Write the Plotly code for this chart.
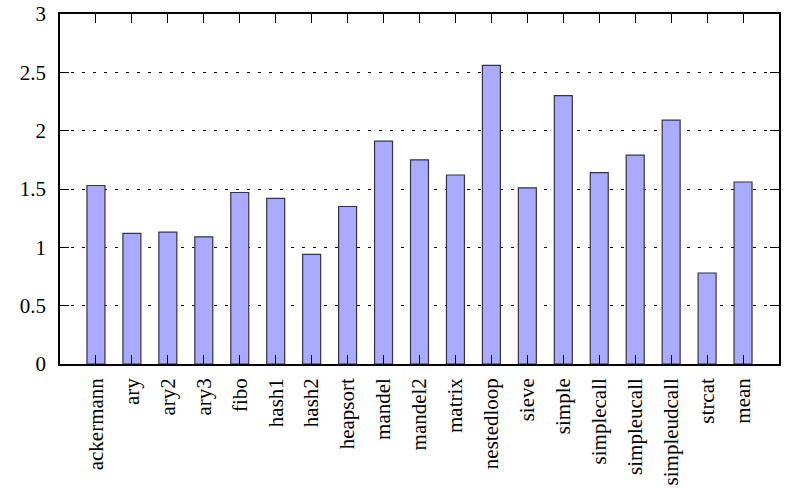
import plotly.graph_objects as go

categories = ["ackermann", "ary", "ary2", "ary3", "fibo", "hash1", "hash2", "heapsort",
              "mandel", "mandel2", "matrix", "nestedloop", "sieve", "simple", "simplecall",
              "simpleucall", "simpleudcall", "strcat", "mean"]
values = [1.53, 1.12, 1.13, 1.09, 1.47, 1.42, 0.94, 1.35,
          1.91, 1.75, 1.62, 2.56, 1.51, 2.30, 1.64,
          1.79, 2.09, 0.78, 1.56]

fig = go.Figure()
fig.add_trace(go.Bar(
    x=list(range(len(categories))), y=values, width=0.5,
    marker=dict(color="#aaaaff", line=dict(color="#333344", width=1.2)),
))

fnt = dict(family="Liberation Serif", size=21, color="black")
fig.update_layout(
    width=785, height=488,
    margin=dict(l=60, r=6, t=14, b=124),
    plot_bgcolor="white", paper_bgcolor="white",
    showlegend=False,
    font=fnt,
    xaxis=dict(
        range=[-1, len(categories)], tickmode="array",
        tickvals=list(range(len(categories))), ticktext=categories,
        tickangle=-90, ticks="inside", ticklen=9, tickcolor="black",
        showline=True, linecolor="black", linewidth=1.5, mirror="ticks",
        showgrid=False, zeroline=False, tickfont=fnt, automargin=False,
        ticklabelstandoff=4,
    ),
    yaxis=dict(
        range=[0, 3], tickmode="array", tickvals=[0, 0.5, 1, 1.5, 2, 2.5, 3],
        ticktext=["0", "0.5", "1", "1.5", "2", "2.5", "3"],
        ticks="inside", ticklen=9, tickcolor="black",
        showline=True, linecolor="black", linewidth=1.5, mirror="ticks",
        showgrid=True, gridcolor="black", gridwidth=1, griddash="3px,8px",
        zeroline=False, tickfont=fnt, ticklabelstandoff=8, automargin=False,
    ),
)
fig.write_html("out.html")
